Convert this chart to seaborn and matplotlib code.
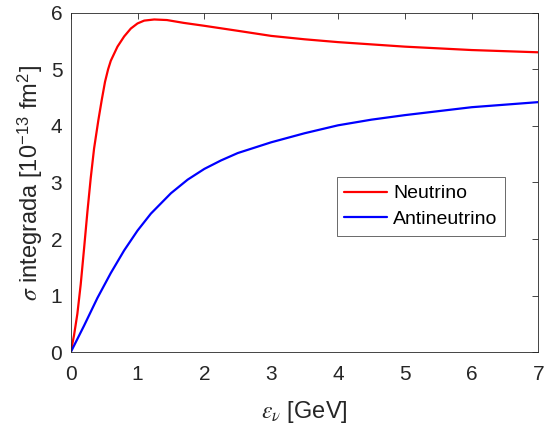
import matplotlib
matplotlib.use("Agg")
import matplotlib.pyplot as plt
import seaborn as sns
import pandas as pd

# Data
nu_x = [0, 0.05, 0.10, 0.15, 0.20, 0.25, 0.30, 0.35, 0.414, 0.465, 0.514, 0.56,
        0.60, 0.70, 0.80, 0.90, 1.00, 1.10, 1.25, 1.44, 1.69, 1.99, 2.5, 3.0,
        3.5, 4.0, 5.0, 6.0, 7.0]
nu_y = [0, 0.30, 0.68, 1.20, 1.83, 2.48, 3.08, 3.60, 4.10, 4.46, 4.78, 5.00,
        5.15, 5.40, 5.58, 5.72, 5.81, 5.86, 5.88, 5.87, 5.82, 5.77, 5.68, 5.59,
        5.53, 5.48, 5.40, 5.34, 5.30]
anu_x = [0, 0.2, 0.4, 0.6, 0.8, 1.0, 1.2, 1.5, 1.75, 2.0, 2.25, 2.5, 3.0, 3.5,
         4.0, 4.5, 5.0, 6.0, 7.0]
anu_y = [0, 0.47, 0.96, 1.40, 1.80, 2.15, 2.45, 2.81, 3.05, 3.24, 3.39, 3.52,
         3.71, 3.87, 4.01, 4.11, 4.19, 4.33, 4.42]
series = ["Neutrino", "Antineutrino"]
colors = ["#ff0000", "#0000ff"]
x_ticks = [0, 1, 2, 3, 4, 5, 6, 7]
y_ticks = [0, 1, 2, 3, 4, 5, 6]

df = pd.concat([
    pd.DataFrame({"x": nu_x, "y": nu_y, "s": series[0]}),
    pd.DataFrame({"x": anu_x, "y": anu_y, "s": series[1]}),
])

sns.set_style("white")
plt.rcParams["font.family"] = ["Liberation Sans", "DejaVu Sans"]
plt.rcParams["mathtext.fontset"] = "stix"

fig = plt.figure(figsize=(5.45, 4.30), dpi=100)
ax = fig.add_axes([0.1297, 0.1807, 0.8583, 0.7898])

sns.lineplot(data=df, x="x", y="y", hue="s", palette=dict(zip(series, colors)),
             linewidth=1.6, ax=ax, sort=False, estimator=None)

ax.set_xlim(0, 7)
ax.set_ylim(0, 6)
ax.set_xticks(x_ticks)
ax.set_yticks(y_ticks)
grey = "#262626"
ax.tick_params(direction="in", length=4.5, width=0.6, colors=grey, labelsize=15,
               top=True, right=True)
ax.tick_params(axis="y", pad=6)
ax.tick_params(axis="x", pad=9)
for sp in ax.spines.values():
    sp.set_visible(True)
    sp.set_color(grey)
    sp.set_linewidth(0.6)

ax.set_xlabel(r"$\epsilon_{\nu}$ [GeV]", fontsize=17, color=grey, labelpad=11)
ax.set_ylabel(r"$\sigma$ integrada [10$^{\mathregular{-13}}$ fm$^{\mathregular{2}}$]",
              fontsize=17, color=grey, labelpad=4)

handles, labels = ax.get_legend_handles_labels()
leg = ax.legend(handles, labels, loc="upper left", bbox_to_anchor=(0.5686, 0.516),
                borderaxespad=0, fontsize=14, frameon=True, fancybox=False,
                edgecolor=grey, handlelength=2.2, handletextpad=0.3,
                borderpad=0.4, labelspacing=0.42)
leg.get_frame().set_linewidth(0.6)
for t in leg.get_texts():
    t.set_color("black")

fig.savefig("out.png", dpi=100)
